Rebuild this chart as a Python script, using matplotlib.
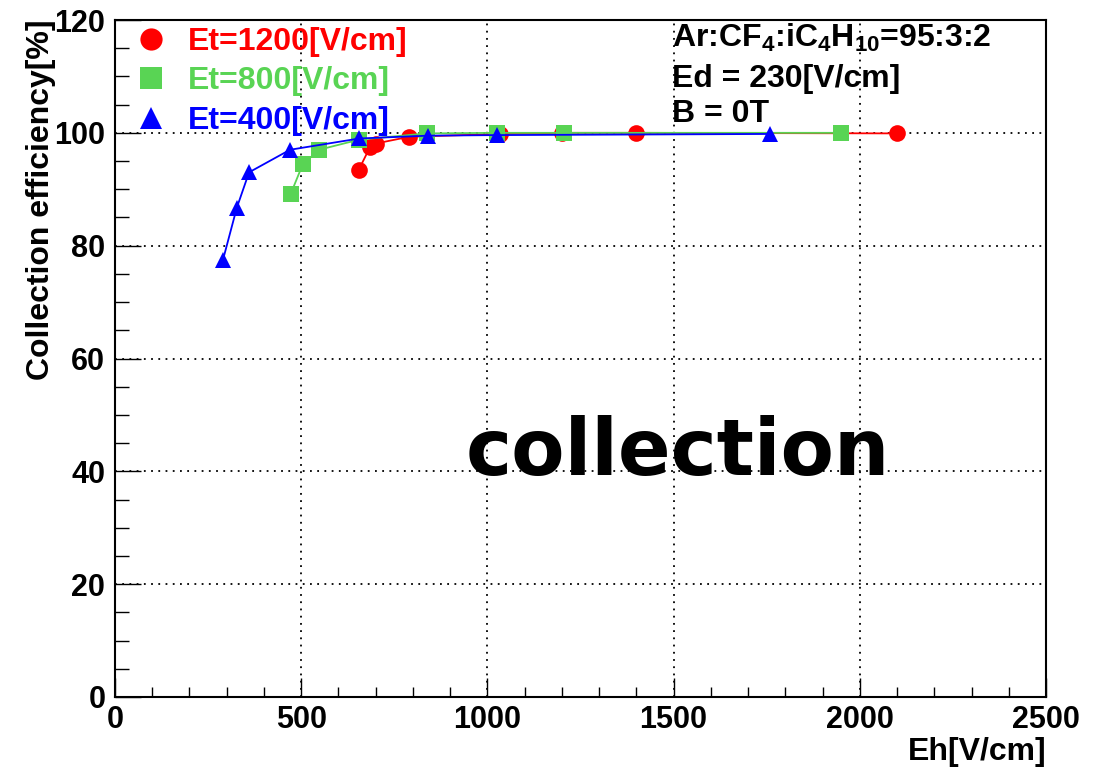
from matplotlib.pyplot import figure, rcParams
from matplotlib.lines import Line2D
from matplotlib.ticker import MultipleLocator

rcParams['font.family'] = ['Liberation Sans', 'DejaVu Sans']
rcParams['font.weight'] = 'bold'
rcParams['axes.labelweight'] = 'bold'
rcParams['mathtext.fontset'] = 'custom'
rcParams['mathtext.rm'] = 'Liberation Sans:bold'
rcParams['mathtext.it'] = 'Liberation Sans:bold'
rcParams['mathtext.bf'] = 'Liberation Sans:bold'
rcParams['mathtext.default'] = 'rm'

# Eh [V/cm] vs collection efficiency [%], one series per transfer field
eh_1200 = [655, 685, 700, 790, 1035, 1200, 1400, 2100]
eff_1200 = [93.5, 97.5, 98.1, 99.3, 99.8, 100.0, 100.0, 99.9]

eh_800 = [472, 504, 548, 656, 838, 1025, 1206, 1950]
eff_800 = [89.2, 94.4, 97.0, 98.8, 99.9, 100.0, 100.0, 100.0]

eh_400 = [290, 327, 360, 470, 656, 841, 1025, 1759]
eff_400 = [77.5, 86.7, 93.0, 97.0, 99.0, 99.5, 99.6, 99.8]

labels = ['Et=1200[V/cm]', 'Et=800[V/cm]', 'Et=400[V/cm]']
colors = ['#ff0000', '#59d454', '#0000ff']
markers = ['o', 's', '^']
msizes = [12, 11, 11]

fg = figure(figsize=(11.15, 7.73), dpi=100)
ax = fg.add_axes([115/1115, 1 - 697/773, 931/1115, 677/773])

series = [(eh_1200, eff_1200), (eh_800, eff_800), (eh_400, eff_400)]
for (x, y), c, m, ms in zip(series, colors, markers, msizes):
    ax.plot(x, y, color=c, lw=1.3, marker=m, ms=ms, mew=0, zorder=3)

ax.set_xlim(0, 2500)
ax.set_ylim(0, 120)
ax.xaxis.set_major_locator(MultipleLocator(500))
ax.xaxis.set_minor_locator(MultipleLocator(100))
ax.yaxis.set_major_locator(MultipleLocator(20))
ax.yaxis.set_minor_locator(MultipleLocator(5))

ax.grid(True, which='major', color='k', ls=(0, (1, 3)), lw=1.3)
for s in ax.spines.values():
    s.set_linewidth(1.5)

ax.tick_params(axis='both', which='both', direction='in', width=1, labelsize=22)
ax.tick_params(axis='x', which='major', length=14, pad=6)
ax.tick_params(axis='x', which='minor', length=7)
ax.tick_params(axis='y', which='major', length=19, pad=7)
ax.tick_params(axis='y', which='minor', length=10)

ax.set_xlabel('Eh[V/cm]', fontsize=23, loc='right')
ax.xaxis.set_label_coords(1.0, -0.059)
ax.set_ylabel('Collection efficiency[%]', fontsize=23, loc='top')
ax.yaxis.set_label_coords(-0.063, 1.0)

#%% legend, markers only
handles = [Line2D([], [], ls='none', marker=m, color=c, ms=16, mew=0)
           for c, m in zip(colors, markers)]
ax.legend(handles, labels, loc='upper left', bbox_to_anchor=(0.022, 0.99),
          frameon=False, fontsize=23, labelcolor=colors, handlelength=1.0,
          handletextpad=0.65, labelspacing=0.3, borderpad=0, borderaxespad=0)

#%% gas / field annotation
ax.text(0.598, 0.960, r'Ar:CF$_4$:iC$_4$H$_{10}$=95:3:2', transform=ax.transAxes,
        fontsize=23, va='baseline')
ax.text(0.598, 0.901, 'Ed = 230[V/cm]', transform=ax.transAxes,
        fontsize=23, va='baseline')
ax.text(0.598, 0.849, 'B = 0T', transform=ax.transAxes,
        fontsize=23, va='baseline')

ax.text(0.377, 0.328, 'collection', transform=ax.transAxes, fontsize=56,
        family='DejaVu Sans', weight='bold', va='baseline', ha='left', zorder=4)

fg.savefig('out.png', dpi=100, facecolor='white')
